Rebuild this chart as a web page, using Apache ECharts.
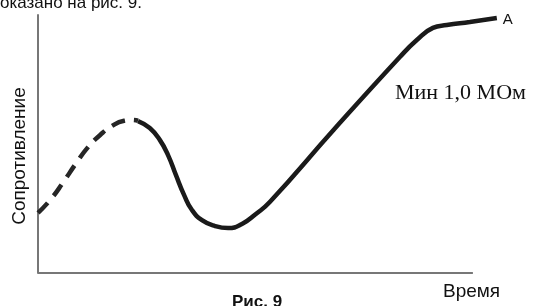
<!DOCTYPE html>
<html>
<head>
<meta charset="utf-8">
<script src="https://cdn.jsdelivr.net/npm/echarts@6/dist/echarts.min.js"></script>
<style>
html,body{margin:0;padding:0;background:#fff;}
#main{width:553px;height:306px;}
</style>
</head>
<body>
<div id="main"></div>
<script>
// время / сопротивление, условные единицы (ось времени 0..100)
var dashedPart = [[0,23.3],[2.8,28.3],[5.7,34.9],[8.5,41.9],[11.5,48.8],[14.3,53.5],[17,57],[19.8,59],[21.8,59.3],[23,59]];
var solidPart = [[23,58.9],[25.7,56.2],[28,51.6],[29.9,45.7],[31.7,38],[33.6,30.2],[35.4,24.4],[37.7,20.5],[40.7,18.2],[43.7,17.4],
	[46.9,19],[50.1,22.9],[53.3,27.5],[68,55.5],[83.2,83.7],[87.1,90.3],[90.8,95],[94,96.1],[99.3,97.3],[105.5,98.8]];
var axisEnd = 100;
var yName = 'Сопротивление';
var xName = 'Время';
var endName = 'A';
var noteText = 'Мин 1,0 МОм';
var figText = 'Рис. 9';
var topText = 'оказано на рис. 9.';

var myChart = echarts.init(document.getElementById('main'));
var option = {
	animation: false,
	grid: {left: 38, top: 15, width: 461, height: 258},
	xAxis: {
		type: 'value', min: 0, max: 106,
		axisLine: {show: false},
		axisTick: {show: false}, axisLabel: {show: false}, splitLine: {show: false}
	},
	yAxis: {
		type: 'value', min: 0, max: 100,
		axisLine: {show: true, lineStyle: {color: '#777', width: 2}},
		axisTick: {show: false}, axisLabel: {show: false}, splitLine: {show: false}
	},
	series: [
		{
			type: 'line', data: dashedPart, smooth: true, symbol: 'none',
			lineStyle: {color: '#262626', width: 4.5, type: [14, 9]},
			markLine: {
				silent: true, symbol: 'none', label: {show: false},
				lineStyle: {color: '#777', width: 2, type: 'solid'},
				data: [[{coord: [0, 0]}, {coord: [axisEnd, 0]}]]
			}
		},
		{
			type: 'line', data: solidPart, smooth: true, symbol: 'none',
			lineStyle: {color: '#1a1a1a', width: 4.5},
			endLabel: {show: true, formatter: endName, distance: 6, offset: [0, 2],
				fontFamily: 'Liberation Sans', fontSize: 15, color: '#111'}
		}
	],
	graphic: [
		{type: 'text', x: 20, y: 156, rotation: Math.PI / 2,
			style: {text: yName, font: '19px "Liberation Sans"', fill: '#111', align: 'center', verticalAlign: 'middle'}},
		{type: 'text', left: 395, top: 82, style: {text: noteText, font: '22px "Liberation Serif"', fill: '#111'}},
		{type: 'text', left: 443, top: 282, style: {text: xName, font: '19px "Liberation Sans"', fill: '#111'}},
		{type: 'text', left: 232, top: 294, style: {text: figText, font: 'bold 17px "Liberation Sans"', fill: '#111'}},
		{type: 'text', left: 0, top: -5, style: {text: topText, font: '17px "Liberation Sans"', fill: '#111'}}
	]
};
myChart.setOption(option);
</script>
</body>
</html>
